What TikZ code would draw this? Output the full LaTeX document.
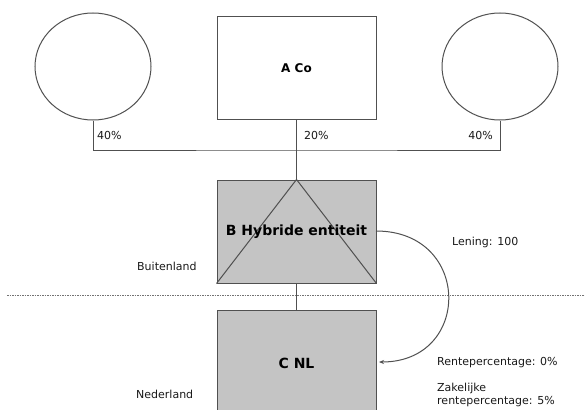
\documentclass[tikz,border=0pt]{standalone}
\usepackage{fontspec}
\setmainfont{DejaVu Sans}
\usetikzlibrary{arrows.meta,shapes.geometric}
\definecolor{boxgray}{RGB}{196,196,196}
\definecolor{linegray}{RGB}{80,80,80}
\begin{document}
\begin{tikzpicture}[x=1pt,y=-1pt,
  ln/.style={draw=linegray,line width=1pt},
  owner/.style={ln,ellipse,minimum width=116pt,minimum height=107pt,inner sep=0pt},
  entbox/.style={ln,rectangle,minimum width=159pt,inner sep=0pt,font=\bfseries\fontsize{14}{16}\selectfont},
  small/.style={inner sep=0pt,font=\fontsize{11}{13}\selectfont,text=black!90},
]
\useasboundingbox (0,0) rectangle (585,409);
\clip (0,0) rectangle (585,409);
\node[owner] (lc) at (93,66.5) {};
\node[owner] (rc) at (500,66.5) {};
\node[ln,rectangle,minimum width=159pt,minimum height=102pt,inner sep=0pt,
  font=\bfseries\fontsize{12}{14}\selectfont] (a) at (296.5,68) {A Co};
\node[entbox,fill=boxgray,minimum height=103pt] (b) at (296.5,231.5) {};
\draw[ln] (b.south west) -- (b.north) -- (b.south east);
\node[entbox,draw=none] (bt) at (b.center) {B Hybride entiteit};
\node[entbox,fill=boxgray,minimum height=106pt] (c) at (296.5,363) {C NL};
\coordinate (j) at (296.5,150);
\draw[ln] (lc.south) |- (j) -| (rc.south);
\draw[ln] (a.south) -- (b.north);
\draw[ln] (b.south) -- (c.north);
\coordinate (dl) at (7,295);
\coordinate (dr) at (585,295);
\draw[draw=linegray!80,line width=0.8pt,dash pattern=on 1.5pt off 1pt] (dl) -- (dr);
\draw[ln,-{Stealth[length=5pt,width=4pt]}] (376,231) .. controls (472,231) and (472,362) .. (379,362);
\node[small,anchor=west] (p1) at (97,135) {40\%};
\node[small,anchor=west] (p2) at (304,135) {20\%};
\node[small,anchor=east] (p3) at (493,135) {40\%};
\node[small,anchor=west] (bl) at (137,266) {Buitenland};
\node[small,anchor=west] (nl) at (136,394) {Nederland};
\node[small,anchor=west] (len) at (452,242) {Lening: 100};
\node[small,anchor=west] (rp) at (437,363) {Rentepercentage: 0\%};
\node[small,anchor=north west,align=left] (zr) at (437,383) {Zakelijke\\rentepercentage: 5\%};
\end{tikzpicture}
\end{document}
